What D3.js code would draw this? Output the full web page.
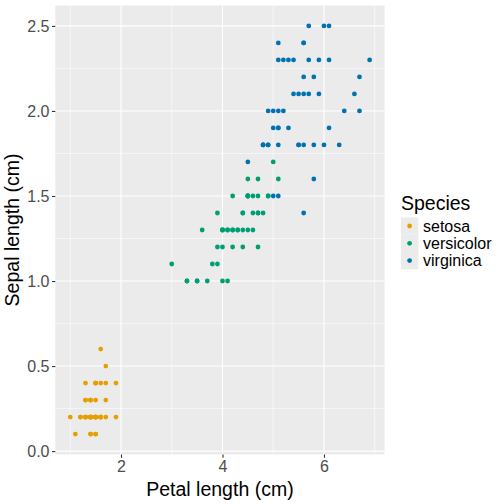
<!DOCTYPE html>
<html><head><meta charset="utf-8">
<script src="https://cdn.jsdelivr.net/npm/d3@7"></script>
<style>body{margin:0;background:#fff}svg{display:block}</style>
</head><body><svg id="c" width="504" height="504"></svg>
<script>
const species = ["setosa","versicolor","virginica"];
const colors = ["#E69F00","#009E73","#0072B2"];
const setosaLength = [1.4,1.4,1.3,1.5,1.4,1.7,1.4,1.5,1.4,1.5,1.5,1.6,1.4,1.1,1.2,1.5,1.3,1.4,1.7,1.5,1.7,1.5,1.0,1.7,1.9,1.6,1.6,1.5,1.4,1.6,1.6,1.5,1.5,1.4,1.5,1.2,1.3,1.4,1.3,1.5,1.3,1.3,1.3,1.6,1.9,1.4,1.6,1.4,1.5,1.4];
const setosaWidth  = [0.2,0.2,0.2,0.2,0.2,0.4,0.3,0.2,0.2,0.1,0.2,0.2,0.1,0.1,0.2,0.4,0.4,0.3,0.3,0.3,0.2,0.4,0.2,0.5,0.2,0.2,0.4,0.2,0.2,0.2,0.2,0.4,0.1,0.2,0.2,0.2,0.2,0.1,0.2,0.2,0.3,0.3,0.2,0.6,0.4,0.3,0.2,0.2,0.2,0.2];
const versicolorLength = [4.7,4.5,4.9,4.0,4.6,4.5,4.7,3.3,4.6,3.9,3.5,4.2,4.0,4.7,3.6,4.4,4.5,4.1,4.5,3.9,4.8,4.0,4.9,4.7,4.3,4.4,4.8,5.0,4.5,3.5,3.8,3.7,3.9,5.1,4.5,4.5,4.7,4.4,4.1,4.0,4.4,4.6,4.0,3.3,4.2,4.2,4.2,4.3,3.0,4.1];
const versicolorWidth  = [1.4,1.5,1.5,1.3,1.5,1.3,1.6,1.0,1.3,1.4,1.0,1.5,1.0,1.4,1.3,1.4,1.5,1.0,1.5,1.1,1.8,1.3,1.5,1.2,1.3,1.4,1.4,1.7,1.5,1.0,1.1,1.0,1.2,1.6,1.5,1.6,1.5,1.3,1.3,1.3,1.2,1.4,1.2,1.0,1.3,1.2,1.3,1.3,1.1,1.3];
const virginicaLength = [6.0,5.1,5.9,5.6,5.8,6.6,4.5,6.3,5.8,6.1,5.1,5.3,5.5,5.0,5.1,5.3,5.5,6.7,6.9,5.0,5.7,4.9,6.7,4.9,5.7,6.0,4.8,4.9,5.6,5.8,6.1,6.4,5.6,5.1,5.6,6.1,5.6,5.5,4.8,5.4,5.6,5.1,5.1,5.9,5.7,5.2,5.0,5.2,5.4,5.1];
const virginicaWidth  = [2.5,1.9,2.1,1.8,2.2,2.1,1.7,1.8,1.8,2.5,2.0,1.9,2.1,2.0,2.4,2.3,1.8,2.2,2.3,1.5,2.3,2.0,2.0,1.8,2.1,1.8,1.8,1.8,2.1,1.6,1.9,2.0,2.2,1.5,1.4,2.3,2.4,1.8,1.8,2.1,2.4,2.3,1.9,2.3,2.5,2.3,1.9,2.0,2.3,1.8];
const xTicks = [2,4,6];
const yTicks = [0.0,0.5,1.0,1.5,2.0,2.5];
const yTickLabels = ["0.0","0.5","1.0","1.5","2.0","2.5"];

const lengths = [setosaLength, versicolorLength, virginicaLength];
const widths = [setosaWidth, versicolorWidth, virginicaWidth];
const points = [];
species.forEach((s,i)=>lengths[i].forEach((v,j)=>points.push({s:s, c:colors[i], x:v, y:widths[i][j]})));

const svg = d3.select("#c");
const L=55.3, R=384.6, T=5.5, B=454.5;
const xMin=d3.min(points,d=>d.x), xMax=d3.max(points,d=>d.x);
const yMin=d3.min(points,d=>d.y), yMax=d3.max(points,d=>d.y);
const xPad=(xMax-xMin)*0.05, yPad=(yMax-yMin)*0.05;
const x=d3.scaleLinear().domain([xMin-xPad,xMax+xPad]).range([L,R]);
const y=d3.scaleLinear().domain([yMin-yPad,yMax+yPad]).range([B,T]);

svg.append("rect").attr("x",L).attr("y",T).attr("width",R-L).attr("height",B-T).attr("fill","#EBEBEB");
const g=svg.append("g");
[1,3,5,7].forEach(v=>g.append("line").attr("x1",x(v)).attr("x2",x(v)).attr("y1",T).attr("y2",B).attr("stroke","#fff").attr("stroke-width",0.55));
[0.25,0.75,1.25,1.75,2.25].forEach(v=>g.append("line").attr("y1",y(v)).attr("y2",y(v)).attr("x1",L).attr("x2",R).attr("stroke","#fff").attr("stroke-width",0.55));
xTicks.forEach(v=>g.append("line").attr("x1",x(v)).attr("x2",x(v)).attr("y1",T).attr("y2",B).attr("stroke","#fff").attr("stroke-width",1.1));
yTicks.forEach(v=>g.append("line").attr("y1",y(v)).attr("y2",y(v)).attr("x1",L).attr("x2",R).attr("stroke","#fff").attr("stroke-width",1.1));

svg.append("g").selectAll("circle").data(points).join("circle")
  .attr("cx",d=>x(d.x)).attr("cy",d=>y(d.y)).attr("r",2.4).attr("fill",d=>d.c);

const font="'Liberation Sans', Arial, Helvetica, sans-serif";
const xa=svg.append("g").attr("transform",`translate(0,${B})`)
  .call(d3.axisBottom(x).tickValues(xTicks).tickSize(3.3).tickPadding(2.5).tickFormat(d3.format("d")));
const ya=svg.append("g").attr("transform",`translate(${L},0)`)
  .call(d3.axisLeft(y).tickValues(yTicks).tickSize(3.3).tickPadding(2.5).tickFormat((d,i)=>yTickLabels[i]));
[xa,ya].forEach(a=>{a.select(".domain").remove();
  a.selectAll(".tick line").attr("stroke","#333").attr("stroke-width",1.1);
  a.selectAll(".tick text").attr("fill","#4D4D4D").attr("font-size","16px").attr("font-family",font);});
xa.selectAll(".tick text").attr("dy","0.75em");
ya.selectAll(".tick text").attr("dy","0.36em");

svg.append("text").attr("x",(L+R)/2).attr("y",496).attr("text-anchor","middle")
  .attr("font-family",font).attr("font-size","19.5px").attr("fill","#000").text("Petal length (cm)");
svg.append("text").attr("transform",`translate(19,${(T+B)/2}) rotate(-90)`).attr("text-anchor","middle")
  .attr("font-family",font).attr("font-size","19.5px").attr("fill","#000").text("Sepal length (cm)");

const lg=svg.append("g");
lg.append("text").attr("x",401).attr("y",210).attr("font-family",font).attr("font-size","19.5px").attr("fill","#000").text("Species");
species.forEach((s,i)=>{
  const cy=226+i*17.3;
  lg.append("rect").attr("x",401).attr("y",cy-8.65).attr("width",17.3).attr("height",17.3).attr("fill","#EBEBEB");
  lg.append("circle").attr("cx",409.6).attr("cy",cy).attr("r",2.4).attr("fill",colors[i]);
  lg.append("text").attr("x",423).attr("y",cy).attr("dy","0.36em").attr("font-family",font).attr("font-size","16px").attr("fill","#000").text(s);
});
</script></body></html>
